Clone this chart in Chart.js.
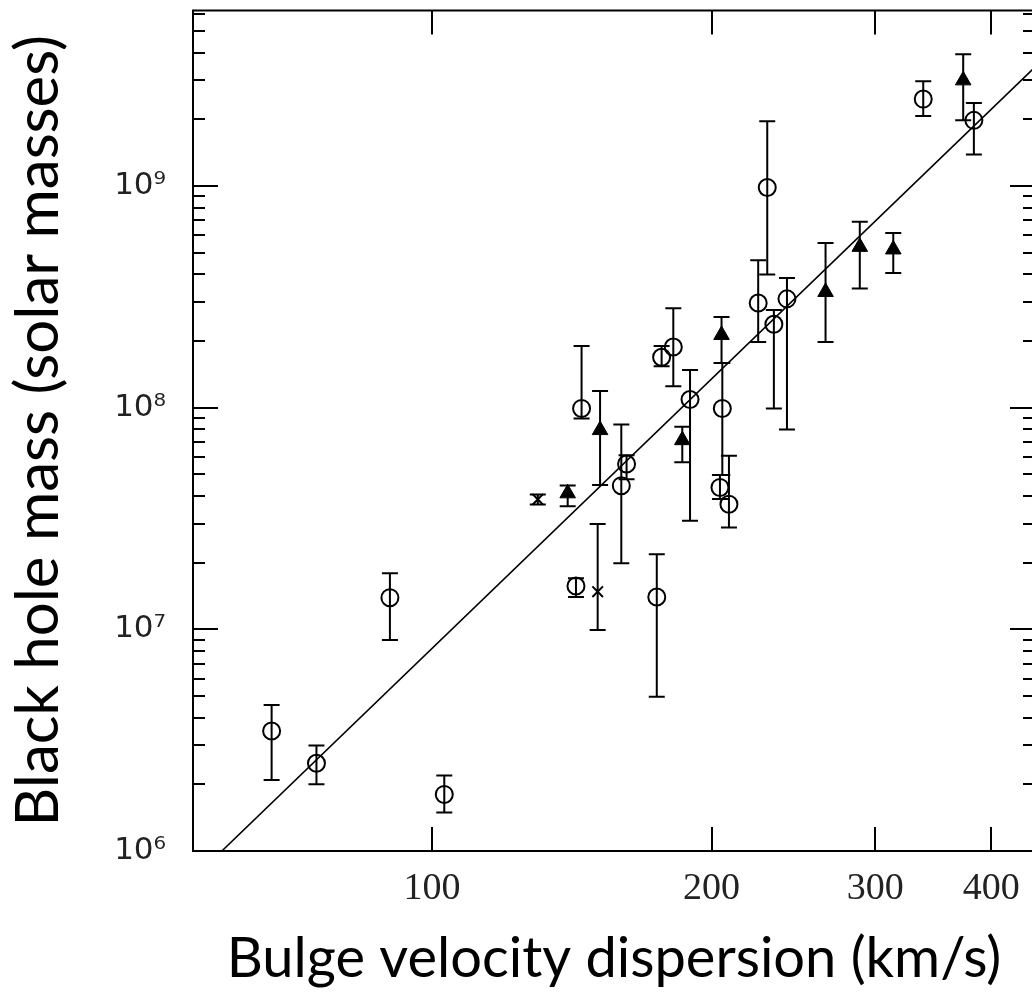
<!DOCTYPE html>
<html lang="en">
<head>
<meta charset="UTF-8" />
<title>Black hole mass vs bulge velocity dispersion</title>
<script src="https://cdn.jsdelivr.net/npm/chart.js@4"></script>
<style>
  html, body { margin: 0; padding: 0; background: #fff; overflow: hidden; }
  #wrap { width: 1040px; height: 1001px; position: relative; }
</style>
</head>
<body>
<div id="wrap"><canvas id="msigma"></canvas></div>
<script>
// open circles: sigma (km/s), mass (solar masses), error bar low / high
const circleSigma = [67.2, 75.1, 90.1, 103.1, 142.9, 144.9, 159.9, 162.0, 174.6, 176.7, 181.9, 189.6, 205.4, 204.2, 208.8, 224.5, 229.6, 233.4, 241.1, 338.0, 383.2];
const circleMass  = [3.48e6, 2.49e6, 1.39e7, 1.80e6, 1.57e7, 9.93e7, 4.45e7, 5.57e7, 1.40e7, 1.69e8, 1.88e8, 1.09e8, 9.93e7, 4.37e7, 3.67e7, 2.97e8, 9.86e8, 2.38e8, 3.10e8, 2.47e9, 1.98e9];
const circleLo    = [2.09e6, 2.00e6, 8.95e6, 1.49e6, 1.40e7, 8.95e7, 1.99e7, 4.76e7, 4.97e6, 1.54e8, 1.25e8, 3.09e7, 4.97e7, 3.87e7, 2.88e7, 1.98e8, 3.99e8, 9.93e7, 7.98e7, 2.07e9, 1.39e9];
const circleHi    = [4.56e6, 2.99e6, 1.79e7, 2.19e6, 1.70e7, 1.90e8, 8.41e7, 6.11e7, 2.18e7, 1.90e8, 2.81e8, 1.48e8, 1.59e8, 4.97e7, 6.07e7, 4.63e8, 1.96e9, 2.76e8, 3.85e8, 2.97e9, 2.37e9];

// filled triangles
const triSigma = [140.0, 151.7, 186.0, 205.0, 265.3, 288.8, 313.8, 373.2];
const triMass  = [4.11e7, 7.93e7, 7.14e7, 2.13e8, 3.33e8, 5.32e8, 5.18e8, 3.00e9];
const triLo    = [3.59e7, 4.48e7, 5.67e7, 1.59e8, 1.98e8, 3.45e8, 4.06e8, 1.98e9];
const triHi    = [4.46e7, 1.19e8, 8.20e7, 2.57e8, 5.54e8, 6.90e8, 6.15e8, 3.94e9];

// crosses
const crossSigma = [130.0, 150.8];
const crossMass  = [3.86e7, 1.48e7];
const crossLo    = [3.66e7, 9.93e6];
const crossHi    = [4.06e7, 2.99e7];

// fitted relation, end points
const fitSigma = [59.4, 445.9];
const fitMass  = [1.0e6, 3.44e9];

// axes
const xTicks = [100, 200, 300, 400];
const yMajor = [1e6, 1e7, 1e8, 1e9];
const yTickLabels = ['10⁶', '10⁷', '10⁸', '10⁹'];
const yMinorSteps = [2, 3, 4, 5, 6, 7, 8, 9];

const X_MIN = 55.3, X_MAX = 445.9, Y_MIN = 1e6, Y_MAX = 6.2e9;

function pts(xs, ys) {
  return xs.map((x, i) => ({ x: x, y: ys[i] }));
}

const yTickValues = [];
yMajor.forEach(m => {
  yTickValues.push(m);
  yMinorSteps.forEach(k => { if (m * k <= Y_MAX) yTickValues.push(m * k); });
});

function isMajor(v) {
  return yMajor.some(m => Math.abs(v - m) / m < 1e-6);
}

function noPad(s) {
  s.paddingTop = 0; s.paddingBottom = 0; s.paddingLeft = 0; s.paddingRight = 0;
}

// vertical error bars with caps
const errorBars = {
  id: 'errorBars',
  afterDatasetsDraw(chart) {
    const { ctx, scales: { x, y } } = chart;
    ctx.save();
    ctx.strokeStyle = '#000';
    ctx.lineWidth = 2;
    chart.data.datasets.forEach(ds => {
      if (!ds.errLo) return;
      ds.data.forEach((p, i) => {
        const px = x.getPixelForValue(p.x);
        const yt = y.getPixelForValue(ds.errHi[i]);
        const yb = y.getPixelForValue(ds.errLo[i]);
        ctx.beginPath();
        ctx.moveTo(px, yt); ctx.lineTo(px, yb);
        ctx.moveTo(px - 8, yt); ctx.lineTo(px + 8, yt);
        ctx.moveTo(px - 8, yb); ctx.lineTo(px + 8, yb);
        ctx.stroke();
      });
    });
    ctx.restore();
  }
};

// box frame with inward ticks on all four sides
const frame = {
  id: 'frame',
  afterDraw(chart) {
    const { ctx, chartArea: a, scales: { x, y } } = chart;
    ctx.save();
    ctx.strokeStyle = '#000';
    ctx.lineWidth = 2;
    ctx.strokeRect(a.left, a.top, a.right - a.left, a.bottom - a.top);
    ctx.beginPath();
    yTickValues.forEach(v => {
      const py = Math.round(y.getPixelForValue(v));
      const len = isMajor(v) ? 25 : 12;
      ctx.moveTo(a.left, py); ctx.lineTo(a.left + len, py);
      ctx.moveTo(a.right, py); ctx.lineTo(a.right - len, py);
    });
    xTicks.forEach(v => {
      const px = Math.round(x.getPixelForValue(v));
      ctx.moveTo(px, a.bottom); ctx.lineTo(px, a.bottom - 24);
      ctx.moveTo(px, a.top); ctx.lineTo(px, a.top + 24);
    });
    ctx.stroke();
    ctx.restore();
  }
};

const ctx = document.getElementById('msigma').getContext('2d');
new Chart(ctx, {
  type: 'scatter',
  data: {
    datasets: [
      {
        type: 'line',
        data: pts(fitSigma, fitMass),
        borderColor: '#000',
        borderWidth: 1.6,
        pointRadius: 0,
        fill: false
      },
      {
        data: pts(circleSigma, circleMass),
        errLo: circleLo, errHi: circleHi,
        pointStyle: 'circle',
        pointRadius: 8.5,
        backgroundColor: 'rgba(0,0,0,0)',
        borderColor: '#000',
        borderWidth: 2
      },
      {
        data: pts(triSigma, triMass),
        errLo: triLo, errHi: triHi,
        pointStyle: 'triangle',
        pointRadius: 9,
        backgroundColor: '#000',
        borderColor: '#000',
        borderWidth: 1
      },
      {
        data: pts(crossSigma, crossMass),
        errLo: crossLo, errHi: crossHi,
        pointStyle: 'crossRot',
        pointRadius: 7.5,
        borderColor: '#000',
        borderWidth: 2
      }
    ]
  },
  options: {
    responsive: true,
    maintainAspectRatio: false,
    animation: false,
    devicePixelRatio: 1,
    layout: { autoPadding: false, padding: { left: 0, right: 5, top: 10.5, bottom: 0 } },
    plugins: { legend: { display: false }, tooltip: { enabled: false } },
    scales: {
      x: {
        type: 'logarithmic',
        position: 'bottom',
        min: X_MIN,
        max: X_MAX,
        afterBuildTicks: s => { s.ticks = xTicks.map(v => ({ value: v })); },
        afterFit: s => { s.height = 150; noPad(s); },
        grid: { display: false, drawTicks: false },
        border: { display: false },
        ticks: {
          autoSkip: false,
          maxRotation: 0,
          padding: 15,
          color: '#222',
          font: { family: 'Liberation Serif', size: 38 },
          callback: v => String(v)
        },
        title: {
          display: true,
          text: 'Bulge velocity dispersion (km/s)',
          color: '#000',
          font: { family: 'Lato', size: 56 },
          padding: { top: 0, bottom: 8 }
        }
      },
      y: {
        type: 'logarithmic',
        position: 'left',
        min: Y_MIN,
        max: Y_MAX,
        afterBuildTicks: s => { s.ticks = yTickValues.map(v => ({ value: v })); },
        afterFit: s => { s.width = 193; noPad(s); },
        grid: { display: false, drawTicks: false },
        border: { display: false },
        ticks: {
          autoSkip: false,
          padding: 27,
          color: '#222',
          font: { family: 'DejaVu Sans', size: 31 },
          callback: v => {
            const i = yMajor.findIndex(m => Math.abs(v - m) / m < 1e-6);
            return i >= 0 ? yTickLabels[i] : '';
          }
        },
        title: {
          display: true,
          text: 'Black hole mass (solar masses)',
          color: '#000',
          font: { family: 'Lato', size: 60 },
          padding: { top: 3, bottom: 0 }
        }
      }
    }
  },
  plugins: [errorBars, frame]
});
</script>
</body>
</html>
